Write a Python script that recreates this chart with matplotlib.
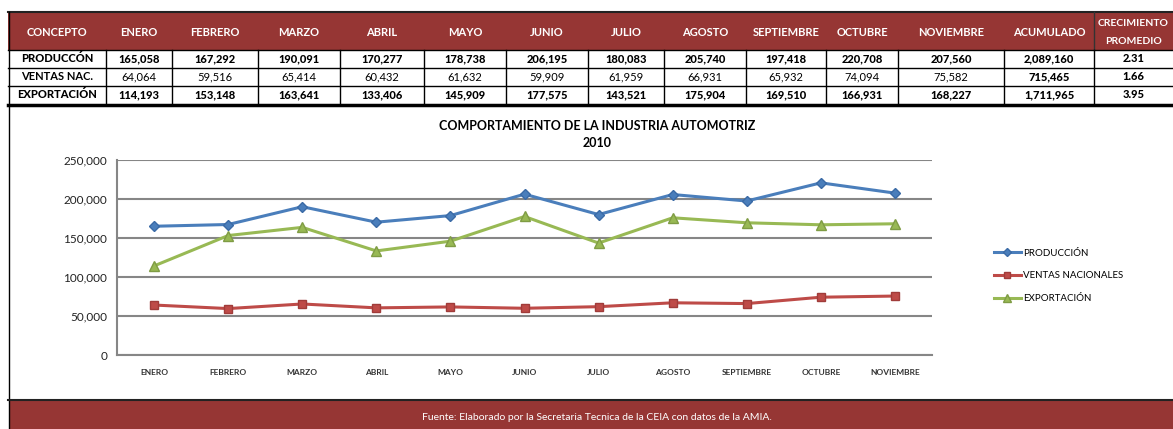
import matplotlib.pyplot as plt
from matplotlib.patches import Rectangle
from matplotlib.ticker import FuncFormatter

plt.rcParams['font.family'] = ['Lato', 'DejaVu Sans']

# data
meses = ['ENERO', 'FEBRERO', 'MARZO', 'ABRIL', 'MAYO', 'JUNIO', 'JULIO',
         'AGOSTO', 'SEPTIEMBRE', 'OCTUBRE', 'NOVIEMBRE']
produccion = [165058, 167292, 190091, 170277, 178738, 206195, 180083,
              205740, 197418, 220708, 207560]
ventas_nac = [64064, 59516, 65414, 60432, 61632, 59909, 61959,
              66931, 65932, 74094, 75582]
exportacion = [114193, 153148, 163641, 133406, 145909, 177575, 143521,
               175904, 169510, 166931, 168227]
acumulado = [2089160, 715465, 1711965]
crecimiento = [2.31, 1.66, 3.95]
conceptos = ['PRODUCCÓN', 'VENTAS NAC.', 'EXPORTACIÓN']
series_names = ['PRODUCCIÓN', 'VENTAS NACIONALES', 'EXPORTACIÓN']

MAROON = '#963634'
W, H = 1173, 429

fig = plt.figure(figsize=(W / 100, H / 100), dpi=100)

# background / table layer in pixel coords
bg = fig.add_axes([0, 0, 1, 1])
bg.set_xlim(0, W)
bg.set_ylim(H, 0)
bg.axis('off')

edges = [8, 106, 172, 258, 340, 424, 506, 588, 664, 746, 826, 898, 1004, 1094, 1173]
centers = [(a + b) / 2 for a, b in zip(edges[:-1], edges[1:])]
head_top, head_bot = 12, 50
row_h = 18

# header
bg.add_patch(Rectangle((8, head_top), W - 8, head_bot - head_top, color=MAROON, lw=0))
bg.plot([8, W], [head_top, head_top], color='#222222', lw=1.5)
headers = ['CONCEPTO'] + meses + ['ACUMULADO']
for cx, h in zip(centers, headers):
    bg.text(cx, 32, h, color='white', fontsize=8, fontweight='bold',
            ha='center', va='center')
bg.text(centers[-1], 24, 'CRECIMIENTO', color='white', fontsize=7.5,
        fontweight='bold', ha='center', va='center')
bg.text(centers[-1], 42, 'PROMEDIO', color='white', fontsize=7.5,
        fontweight='bold', ha='center', va='center')
bg.plot([edges[-2], edges[-2]], [head_top, head_bot], color='#333333', lw=1)

# data rows
rows = [produccion, ventas_nac, exportacion]
for i, (name, vals) in enumerate(zip(conceptos, rows)):
    y0 = head_bot + i * row_h
    yc = y0 + row_h / 2
    bold = i != 1
    cells = [name] + [f'{v:,}' for v in vals] + [f'{acumulado[i]:,}', f'{crecimiento[i]:.2f}']
    for j, (cx, txt) in enumerate(zip(centers, cells)):
        w = 'black' if (bold or j >= len(cells) - 2) else ('bold' if j == 0 else 'normal')
        bg.text(cx, yc, txt, fontsize=8, fontweight=w, ha='center', va='center',
                color='black')
    bg.plot([8, W], [y0, y0], color='black', lw=1)
for x in edges[1:-1]:
    bg.plot([x, x], [head_bot, head_bot + 3 * row_h], color='black', lw=1)
bg.plot([8, W], [head_bot + 3 * row_h + 1, head_bot + 3 * row_h + 1], color='black', lw=2.5)

# outer frame + footer
bg.plot([8.5, 8.5], [head_top, H], color='black', lw=1)
bg.plot([8, W], [400, 400], color='#222222', lw=1.5)
bg.add_patch(Rectangle((9, 401), W - 9, H - 401, color=MAROON, lw=0))
bg.text(597, 417, 'Fuente: Elaborado por la Secretaria Tecnica de la CEIA con datos de la AMIA.',
        color='white', fontsize=7.5, ha='center', va='center')

# title
fig.text(597 / W, 1 - 126 / H, 'COMPORTAMIENTO DE LA INDUSTRIA AUTOMOTRIZ',
         fontsize=9, fontweight='bold', ha='center', va='center')
fig.text(597 / W, 1 - 143 / H, '2010', fontsize=9, fontweight='bold',
         ha='center', va='center')

# chart
ax = fig.add_axes([117 / W, 1 - 355 / H, 815 / W, 195 / H])
ax.set_facecolor('none')
x = list(range(len(meses)))
ax.plot(x, produccion, color='#4A7EBB', lw=2.2, marker='D', ms=5,
        markeredgecolor='#3A6AA6', label=series_names[0], zorder=3)
ax.plot(x, ventas_nac, color='#BE4B48', lw=2.2, marker='s', ms=6,
        markeredgecolor='#A03C3A', label=series_names[1], zorder=3)
ax.plot(x, exportacion, color='#98B954', lw=2.2, marker='^', ms=7,
        markeredgecolor='#7F9C44', label=series_names[2], zorder=3)

ax.set_xlim(-0.5, len(meses) - 0.5)
ax.set_ylim(0, 250000)
ax.set_yticks(range(0, 250001, 50000))
ax.yaxis.set_major_formatter(FuncFormatter(lambda v, p: f'{v:,.0f}'))
ax.set_xticks(x)
ax.set_xticklabels(meses, fontsize=6, fontweight='bold', color='#333333')
ax.tick_params(axis='y', labelsize=8.5, length=0, pad=7, labelcolor='#222222')
ax.tick_params(axis='x', length=0, pad=10)
ax.grid(axis='y', color='#868686', lw=1.5)
ax.set_axisbelow(True)
for s in ['top', 'right']:
    ax.spines[s].set_visible(False)
ax.spines['left'].set_color('#868686')
ax.spines['left'].set_linewidth(1.5)
ax.spines['bottom'].set_color('#868686')
ax.spines['bottom'].set_linewidth(1.5)

fig.legend(loc='center left', bbox_to_anchor=(985 / W, 1 - 276 / H),
           frameon=False, fontsize=7, labelspacing=1.4, handlelength=2.8,
           handletextpad=0.2, markerscale=0.8)

fig.savefig('out.png', dpi=100)
